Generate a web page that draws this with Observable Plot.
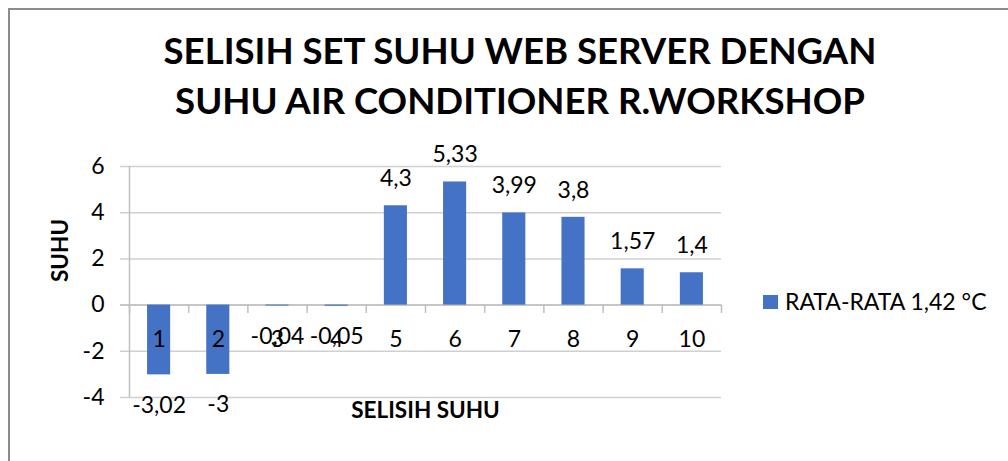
<!DOCTYPE html>
<html>
<head>
<meta charset="utf-8">
<script src="https://cdn.jsdelivr.net/npm/d3@7"></script>
<script src="https://cdn.jsdelivr.net/npm/@observablehq/plot@0.6"></script>
<style>
  html, body { margin: 0; padding: 0; background: #fff; }
  #wrap { position: relative; width: 1008px; height: 461px; overflow: hidden; font-family: Lato, "Open Sans", sans-serif; color: #000; }
  #border { position: absolute; left: 8px; top: 8px; width: 1100px; height: 600px; border-left: 2px solid #8c8c8c; border-top: 2px solid #8c8c8c; box-sizing: border-box; }
  .title { position: absolute; left: 0; width: 1040px; text-align: center; font-weight: bold; font-size: 36.6px; line-height: 50px; white-space: nowrap; }
  #legend { position: absolute; left: 763px; top: 290px; font-size: 23px; line-height: 22px; white-space: nowrap; }
  #legend .sw { position: absolute; left: 0; top: 5px; width: 15px; height: 14px; background: #4472c4; }
  #legend .lb { position: absolute; left: 22px; top: 0; }
  #chart { position: absolute; left: 0; top: 0; }
</style>
</head>
<body>
<div id="wrap">
  <div id="chart"></div>
  <div id="border"></div>
  <div class="title" id="t1" style="top:25px"></div>
  <div class="title" id="t2" style="top:75px"></div>
  <div id="legend"><span class="sw"></span><span class="lb" id="legtext"></span></div>
</div>
<script>
// ---- data ----
const titleLines = ["SELISIH SET SUHU WEB SERVER DENGAN", "SUHU AIR CONDITIONER R.WORKSHOP"];
const xTitle = "SELISIH SUHU";
const yTitle = "SUHU";
const seriesName = "RATA-RATA 1,42 °C";
const categories = [1, 2, 3, 4, 5, 6, 7, 8, 9, 10];
const values = [-3.02, -3, -0.04, -0.05, 4.3, 5.33, 3.99, 3.8, 1.57, 1.4];
const yTicks = [-4, -2, 0, 2, 4, 6];

document.getElementById("t1").textContent = titleLines[0];
document.getElementById("t2").textContent = titleLines[1];
document.getElementById("legtext").textContent = seriesName;

const data = categories.map((c, i) => ({cat: c, value: values[i]}));
const half = 0.195; // half bar width in category units
const bounds = categories.map(c => c - 0.5).concat([categories[categories.length - 1] + 0.5]);
const fmt = v => String(v).replace(".", ",");
const fs = 23;

const chart = Plot.plot({
  width: 1008,
  height: 461,
  marginTop: 166,
  marginBottom: 64,
  marginLeft: 129,
  marginRight: 287,
  style: {fontFamily: "Lato, 'Open Sans', sans-serif", fontSize: "22px", color: "#000", background: "transparent"},
  x: {domain: [bounds[0], bounds[bounds.length - 1]], axis: null},
  y: {domain: [yTicks[0], yTicks[yTicks.length - 1]], axis: null},
  marks: [
    Plot.ruleY(yTicks, {stroke: "#d0d0d0", strokeWidth: 1.5, insetLeft: -9}),
    Plot.ruleX([bounds[0]], {stroke: "#bfbfbf", strokeWidth: 1.5}),
    Plot.ruleY([0], {stroke: "#bfbfbf", strokeWidth: 1.5, insetLeft: -9}),
    Plot.ruleX(bounds, {y1: 0, y2: -0.36, stroke: "#bfbfbf", strokeWidth: 1.5}),
    Plot.rectY(data, {x1: d => d.cat - half, x2: d => d.cat + half, y1: 0, y2: "value", fill: "#4472c4"}),
    Plot.text(yTicks, {x: bounds[0], y: d => d, text: d => String(d), textAnchor: "end", dx: -25, fontSize: fs}),
    Plot.text(data, {x: "cat", y: 0, text: d => String(d.cat), dy: 35, fontSize: fs}),
    Plot.text(data.filter(d => d.value >= 0), {x: "cat", y: "value", text: d => fmt(d.value), dy: -27, fontSize: fs}),
    Plot.text(data.filter(d => d.value < 0), {x: "cat", y: "value", text: d => fmt(d.value), dy: 30.5, fontSize: fs}),
    Plot.text([xTitle], {frameAnchor: "bottom", dy: 20, fontWeight: "bold", fontSize: 22.5}),
    Plot.text([yTitle], {frameAnchor: "left", rotate: -90, dx: -69, fontWeight: "bold", fontSize: 22.5})
  ]
});
document.getElementById("chart").appendChild(chart);
</script>
</body>
</html>
